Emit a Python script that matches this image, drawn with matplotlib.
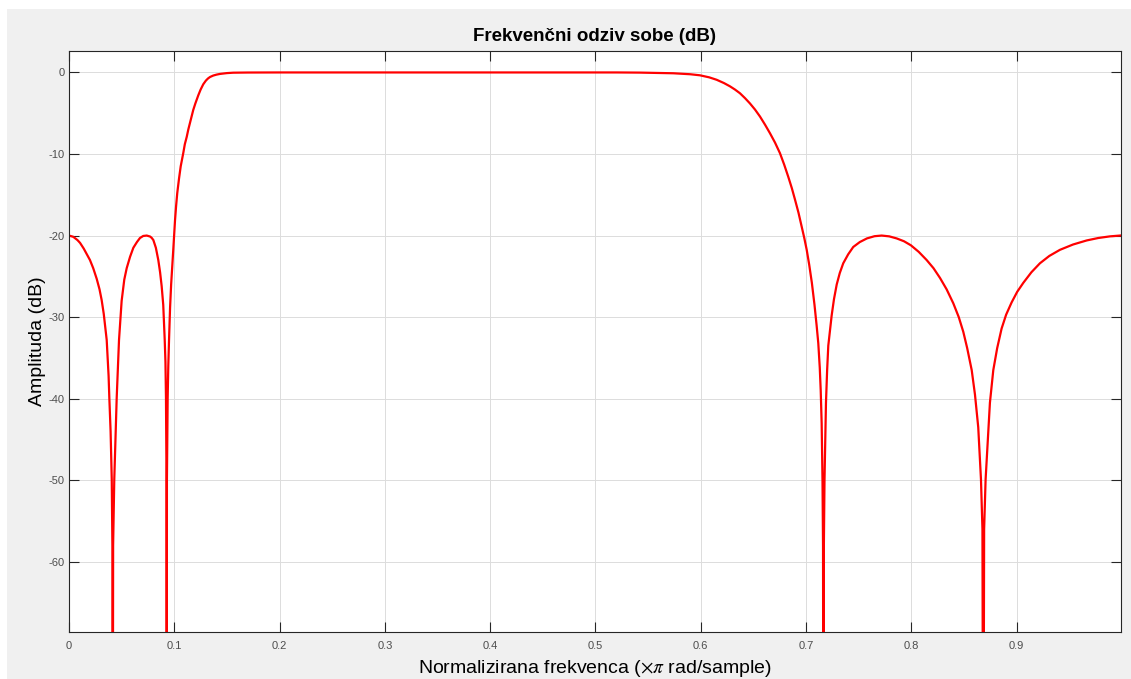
import matplotlib.pyplot as plt
from matplotlib.patches import Rectangle

plt.rcParams['font.family'] = ['Liberation Sans', 'DejaVu Sans']
plt.rcParams['mathtext.fontset'] = 'stix'
plt.rcParams['axes.unicode_minus'] = False

# normalised frequency (x pi rad/sample) and magnitude (dB)
freq = [0.000, 0.004, 0.008, 0.0105, 0.014, 0.017, 0.0199, 0.023, 0.0263,
        0.029, 0.031, 0.033, 0.0342, 0.0358, 0.0367, 0.0376, 0.0383, 0.0395,
        0.0406, 0.0412, 0.0415, 0.0419, 0.0430, 0.0453, 0.0475, 0.0500,
        0.0525, 0.0548, 0.0580, 0.0611, 0.0645, 0.0674, 0.0705, 0.0738,
        0.0770, 0.0785, 0.0801, 0.0825, 0.0848, 0.0865, 0.0880, 0.0895, 0.0909,
        0.0916, 0.0921, 0.0926, 0.0928, 0.0930, 0.0937, 0.0943, 0.0950,
        0.0960, 0.0970, 0.0980, 0.0990, 0.1007, 0.1017, 0.1028, 0.1045,
        0.1061, 0.1085, 0.1100, 0.1118, 0.1133, 0.1149, 0.1165, 0.1180,
        0.1200, 0.1228, 0.1250, 0.1275, 0.1300, 0.1320, 0.1339, 0.1370, 0.140,
        0.1434, 0.150, 0.156, 0.170, 0.2, 0.3, 0.4, 0.5, 0.520, 0.5423, 0.5739,
        0.590, 0.5992, 0.608, 0.6151, 0.622, 0.6277, 0.6325, 0.6372, 0.642,
        0.6467, 0.6515, 0.6562, 0.661, 0.6657, 0.6705, 0.6752, 0.6792,
        0.6831, 0.6865, 0.6895, 0.6928, 0.6958, 0.6983, 0.7006, 0.7030,
        0.7055, 0.7080, 0.7100, 0.7116, 0.7130, 0.7139, 0.7148, 0.7156,
        0.7161, 0.7165, 0.7169, 0.7175, 0.7189, 0.7200, 0.7211, 0.7243,
        0.7265, 0.7291, 0.7320, 0.7353, 0.7400, 0.7448, 0.7510, 0.7578,
        0.7650, 0.7718, 0.7790, 0.7860, 0.7930, 0.7996, 0.8070, 0.8145,
        0.8210, 0.8272, 0.8335, 0.8398, 0.8450, 0.8493, 0.8530, 0.8573,
        0.8604, 0.8635, 0.8661, 0.8675, 0.8683, 0.8691, 0.8705, 0.8746,
        0.8778, 0.8815, 0.8857, 0.8900, 0.8952, 0.9005, 0.9063, 0.9140,
        0.9221, 0.9310, 0.9411, 0.9535, 0.9665, 0.9775, 0.9886, 0.9981]
mag_db = [-20.0, -20.15, -20.55, -20.9, -21.6, -22.3, -23.0, -24.0, -25.3,
          -26.6, -27.9, -29.6, -31.0, -32.8, -35.0, -37.2, -39.9, -44.0,
          -49.9, -58.0, -100.0, -58.0, -49.9, -39.9, -32.8, -28.0,
          -25.4, -24.0, -22.6, -21.5, -20.8, -20.3, -20.05, -20.0,
          -20.12, -20.28, -20.55, -21.5, -23.0, -24.5, -26.2, -28.5, -32.8,
          -35.5, -39.9, -49.9, -100.0, -49.9, -39.9, -36.0, -32.8,
          -28.8, -26.0, -23.8, -21.8, -18.1, -16.4, -14.8, -13.0,
          -11.5, -9.9, -8.8, -7.9, -7.0, -6.2, -5.4, -4.6,
          -3.8, -2.8, -2.1, -1.45, -1.0, -0.74, -0.56, -0.38, -0.27,
          -0.18, -0.08, -0.03, -0.01, 0.0, 0.0, 0.0, 0.0, 0.0, -0.02, -0.1,
          -0.22, -0.35, -0.6, -0.9, -1.3, -1.7, -2.1, -2.55, -3.15,
          -3.8, -4.55, -5.4, -6.4, -7.45, -8.6, -9.9, -11.3,
          -12.8, -14.2, -15.6, -17.2, -18.9, -20.3, -21.75, -23.6,
          -25.8, -28.5, -31.0, -33.2, -36.2, -39.0, -43.0, -50.0,
          -58.0, -100.0, -58.0, -50.0, -40.5, -36.5, -33.5, -29.8,
          -27.8, -26.0, -24.6, -23.4, -22.3, -21.4, -20.8, -20.35,
          -20.08, -20.0, -20.1, -20.35, -20.7, -21.2, -22.0, -23.0,
          -24.0, -25.2, -26.6, -28.3, -30.0, -31.8, -33.8, -36.5,
          -39.5, -43.5, -49.9, -56.0, -100.0, -56.0, -49.9, -40.5,
          -36.5, -33.8, -31.4, -29.7, -28.2, -26.9, -25.8, -24.5,
          -23.4, -22.5, -21.75, -21.1, -20.6, -20.3, -20.1, -20.0]

xticks = [0, 0.1, 0.2, 0.3, 0.4, 0.5, 0.6, 0.7, 0.8, 0.9]
xticklabels = ["0", "0.1", "0.2", "0.3", "0.4", "0.5", "0.6", "0.7", "0.8", "0.9"]
yticks = [-60, -50, -40, -30, -20, -10, 0]

fig = plt.figure(figsize=(11.31, 6.79), dpi=100, facecolor="white")
# grey window background, as in the MATLAB figure
fig.patches.append(Rectangle((7/1131, 0), 1 - 7/1131, 1 - 9/679,
                             transform=fig.transFigure, facecolor="#f0f0f0",
                             edgecolor="none", zorder=-10))

ax = fig.add_axes([69/1131, 46.7/679, (1120.7 - 69)/1131, (632.3 - 51)/679])
ax.set_facecolor("white")

ax.plot(freq, mag_db, color="red", lw=1.6, solid_joinstyle="round")

ax.set_xlim(0, 0.9988)
ax.set_ylim(-68.65, 2.63)
ax.set_xticks(xticks)
ax.set_xticklabels(xticklabels)
ax.set_yticks(yticks)

ax.grid(True, color="#dcdcdc", lw=0.7)
ax.set_axisbelow(True)

ax.tick_params(direction="in", length=7, width=0.8, colors="#262626",
               labelcolor="#4d4d4d", labelsize=8, top=True, right=True)
ax.tick_params(axis="x", pad=6)
ax.tick_params(axis="y", pad=3)
for s in ax.spines.values():
    s.set_color("#262626")
    s.set_linewidth(0.8)

ax.set_title("Frekvenčni odziv sobe (dB)", fontsize=13.5, fontweight="bold",
             color="black", pad=7)
ax.set_xlabel(r"Normalizirana frekvenca ($\times\pi$ rad/sample)", fontsize=14,
              labelpad=5)
ax.set_ylabel("Amplituda (dB)", fontsize=14, labelpad=2)

fig.savefig("out.png", dpi=100, facecolor=fig.get_facecolor())
